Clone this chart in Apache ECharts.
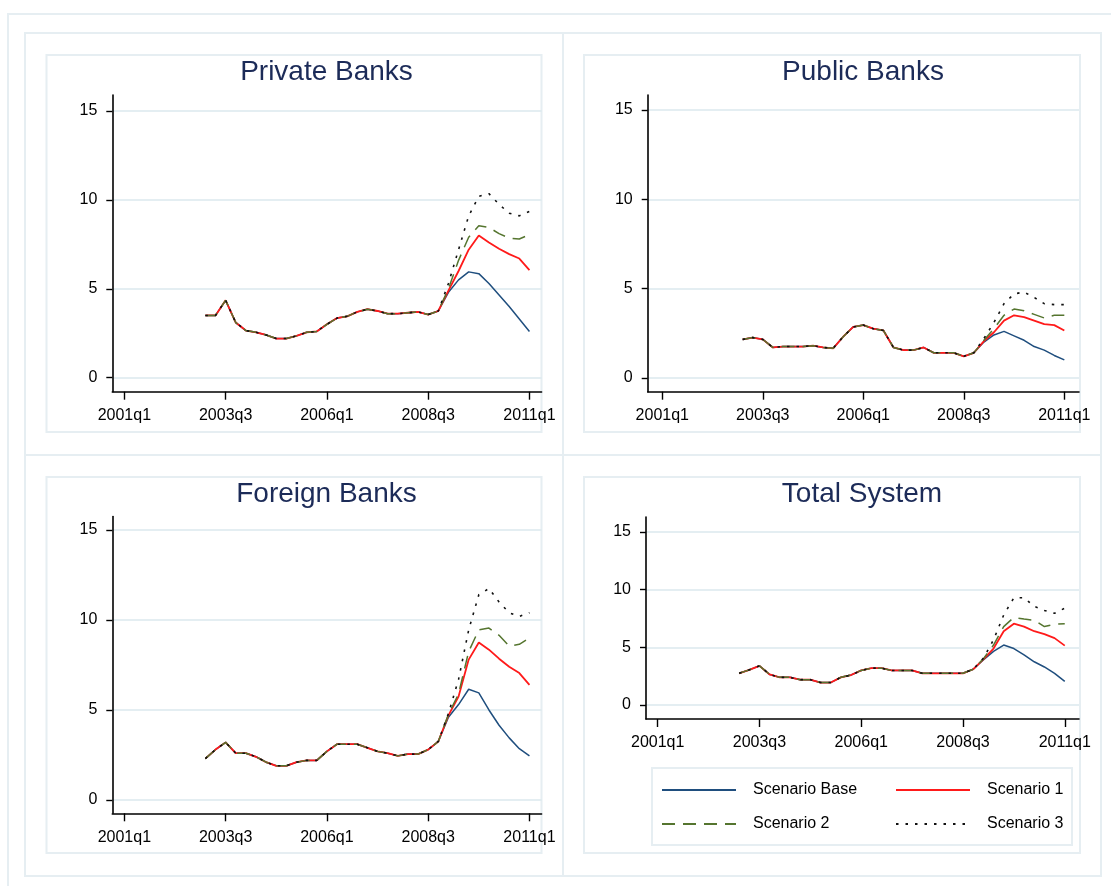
<!DOCTYPE html>
<html><head><meta charset="utf-8">
<script src="https://cdn.jsdelivr.net/npm/echarts@6/dist/echarts.min.js"></script>
<style>html,body{margin:0;padding:0;background:#fff}#c{width:1111px;height:886px}</style>
</head><body><div id="c"></div>
<script>
// ---------- DATA ----------
const quarterTickPos = [0, 10, 20, 30, 40];
const quarterTickLabels = ['2001q1', '2003q3', '2006q1', '2008q3', '2011q1'];
const yTickValues = [0, 5, 10, 15];
const scenarioNames = ['Scenario Base', 'Scenario 1', 'Scenario 2', 'Scenario 3'];
const panelTitles = ['Private Banks', 'Public Banks', 'Foreign Banks', 'Total System'];

// 2001q1 .. 2002q4: no observations
const noData = [null, null, null, null, null, null, null, null];

// 2003q1 .. 2008q4 (identical across scenarios)
const privateCommon = [3.5, 3.5, 4.35, 3.1, 2.65, 2.55, 2.4, 2.2, 2.2, 2.35, 2.55, 2.6, 3.0, 3.35, 3.45, 3.7, 3.85, 3.75, 3.6, 3.6, 3.65, 3.7, 3.55, 3.75];
// 2009q1 .. 2011q1
const privateBase = [4.8, 5.5, 5.95, 5.85, 5.3, 4.65, 4.0, 3.3, 2.6];
const privateS1   = [4.9, 6.0, 7.2, 8.0, 7.6, 7.25, 6.95, 6.7, 6.05];
const privateS2   = [5.0, 6.6, 7.9, 8.55, 8.45, 8.1, 7.85, 7.8, 8.05];
const privateS3   = [5.3, 7.2, 9.1, 10.2, 10.35, 9.75, 9.25, 9.1, 9.35];

const publicCommon = [2.15, 2.25, 2.15, 1.7, 1.75, 1.75, 1.75, 1.8, 1.7, 1.65, 2.3, 2.85, 2.95, 2.75, 2.65, 1.7, 1.55, 1.55, 1.7, 1.4, 1.4, 1.4, 1.2, 1.4];
const publicBase = [2.0, 2.4, 2.6, 2.35, 2.1, 1.75, 1.55, 1.25, 1.0];
const publicS1   = [2.05, 2.55, 3.2, 3.5, 3.4, 3.2, 3.0, 2.95, 2.65];
const publicS2   = [2.1, 2.75, 3.5, 3.85, 3.75, 3.55, 3.35, 3.5, 3.5];
const publicS3   = [2.2, 3.1, 4.15, 4.7, 4.8, 4.5, 4.15, 4.1, 4.1];

const foreignCommon = [2.3, 2.8, 3.2, 2.6, 2.6, 2.4, 2.1, 1.9, 1.9, 2.1, 2.2, 2.2, 2.7, 3.1, 3.1, 3.1, 2.9, 2.7, 2.6, 2.45, 2.55, 2.55, 2.8, 3.25];
const foreignBase = [4.6, 5.3, 6.15, 5.95, 5.0, 4.15, 3.45, 2.85, 2.45];
const foreignS1   = [4.7, 5.75, 7.8, 8.75, 8.35, 7.85, 7.4, 7.05, 6.4];
const foreignS2   = [4.75, 5.9, 8.25, 9.45, 9.55, 9.15, 8.55, 8.65, 9.0];
const foreignS3   = [4.8, 6.7, 9.45, 11.4, 11.75, 11.0, 10.4, 10.2, 10.4];

const totalCommon = [2.75, 3.05, 3.4, 2.65, 2.4, 2.4, 2.2, 2.2, 1.95, 1.95, 2.4, 2.6, 3.0, 3.2, 3.2, 3.0, 3.0, 3.0, 2.75, 2.75, 2.75, 2.75, 2.75, 3.1];
const totalBase = [3.9, 4.65, 5.2, 4.9, 4.35, 3.75, 3.3, 2.75, 2.05];
const totalS1   = [3.95, 4.9, 6.4, 7.05, 6.8, 6.4, 6.15, 5.8, 5.15];
const totalS2   = [4.0, 5.2, 6.8, 7.6, 7.45, 7.35, 6.8, 7.0, 7.05];
const totalS3   = [4.05, 5.65, 7.8, 9.3, 9.3, 8.55, 8.2, 7.95, 8.4];

// ---------- BUILD ----------
const panelData = [
  [privateCommon, [privateBase, privateS1, privateS2, privateS3]],
  [publicCommon,  [publicBase, publicS1, publicS2, publicS3]],
  [foreignCommon, [foreignBase, foreignS1, foreignS2, foreignS3]],
  [totalCommon,   [totalBase, totalS1, totalS2, totalS3]]
];

const layouts = [
  {left: 112.3, top: 95, width: 429.3, height: 296.7, xMin: -1.19, xMax: 41.2,  yMin: -0.79, yMax: 15.9,  tx: 326.5, ty: 72},
  {left: 647.7, top: 95, width: 431.3, height: 296.7, xMin: -1.45, xMax: 41.46, yMin: -0.78, yMax: 15.84, tx: 863,   ty: 72},
  {left: 112.3, top: 516.5, width: 429.3, height: 296.8, xMin: -1.19, xMax: 41.2, yMin: -0.74, yMax: 15.75, tx: 326.5, ty: 494},
  {left: 646,   top: 517, width: 433,   height: 202,   xMin: -1.15, xMax: 41.4,  yMin: -1.21, yMax: 16.3,  tx: 862,   ty: 494}
];

const styles = [
  {color: '#1f4e7e', width: 1.5, type: 'solid'},
  {color: '#ff1a1a', width: 1.8, type: 'solid'},
  {color: '#55752f', width: 1.5, type: [13, 8]},
  {color: '#111111', width: 1.6, type: [2.5, 7]}
];

const FONT = 'Liberation Sans, Arial, sans-serif';
const grids = [], xAxes = [], yAxes = [], series = [];
layouts.forEach((L, p) => {
  grids.push({left: L.left, top: L.top, width: L.width, height: L.height, containLabel: false, outerBoundsMode: 'none'});
  xAxes.push({
    type: 'value', gridIndex: p, min: L.xMin, max: L.xMax,
    axisLine: {show: true, onZero: false, lineStyle: {color: '#000', width: 1.6}},
    axisTick: {show: true, customValues: quarterTickPos, length: 8, lineStyle: {color: '#000', width: 1.4}},
    axisLabel: {show: true, customValues: quarterTickPos, margin: 16, color: '#000', fontFamily: FONT, fontSize: 16,
      formatter: v => quarterTickLabels[quarterTickPos.indexOf(Math.round(v))] || ''},
    splitLine: {show: false}
  });
  yAxes.push({
    type: 'value', gridIndex: p, min: L.yMin, max: L.yMax,
    axisLine: {show: true, onZero: false, lineStyle: {color: '#000', width: 1.6}},
    axisTick: {show: true, customValues: yTickValues, length: 6, lineStyle: {color: '#000', width: 1.4}},
    axisLabel: {show: true, customValues: yTickValues, margin: 15, color: '#000', fontFamily: FONT, fontSize: 16},
    splitLine: {show: true, lineStyle: {color: '#dbe8ee', width: 1.5}}
  });
  const [common, tails] = panelData[p];
  tails.forEach((tail, s) => {
    const full = noData.concat(common, tail);
    series.push({
      type: 'line', name: scenarioNames[s], xAxisIndex: p, yAxisIndex: p,
      data: full.map((v, i) => [i, v]),
      showSymbol: false, symbol: 'none', smooth: false, animation: false,
      lineStyle: {color: styles[s].color, width: styles[s].width, type: styles[s].type},
      itemStyle: {color: styles[s].color},
      z: 2 + s
    });
  });
});

const frame = '#e6eef2';
const graphic = [
  {type: 'rect', shape: {x: 8, y: 14, width: 1125, height: 900}, style: {fill: 'none', stroke: frame, lineWidth: 2}, z: -10},
  {type: 'rect', shape: {x: 25, y: 33, width: 1076, height: 843}, style: {fill: 'none', stroke: frame, lineWidth: 2}, z: -10},
  {type: 'line', shape: {x1: 563, y1: 33, x2: 563, y2: 876}, style: {stroke: frame, lineWidth: 2}, z: -10},
  {type: 'line', shape: {x1: 25, y1: 455, x2: 1101, y2: 455}, style: {stroke: frame, lineWidth: 2}, z: -10},
  {type: 'rect', shape: {x: 46.5, y: 55, width: 495, height: 377}, style: {fill: 'none', stroke: frame, lineWidth: 2}, z: -10},
  {type: 'rect', shape: {x: 584, y: 55, width: 496, height: 377}, style: {fill: 'none', stroke: frame, lineWidth: 2}, z: -10},
  {type: 'rect', shape: {x: 46.5, y: 477, width: 495, height: 376}, style: {fill: 'none', stroke: frame, lineWidth: 2}, z: -10},
  {type: 'rect', shape: {x: 584, y: 477, width: 496, height: 376}, style: {fill: 'none', stroke: frame, lineWidth: 2}, z: -10},
  {type: 'rect', shape: {x: 652, y: 768, width: 420, height: 77}, style: {fill: '#fff', stroke: frame, lineWidth: 2}, z: 1}
];
layouts.forEach((L, p) => {
  graphic.push({type: 'text', x: L.tx, y: L.ty, z: 5,
    style: {text: panelTitles[p], fill: '#1c2b58', font: '28px ' + FONT, textAlign: 'center', textVerticalAlign: 'middle'}});
});

const legendPos = [[661, 782], [895, 782], [661, 816], [895, 816]];
const legends = scenarioNames.map((n, s) => ({
  data: [n], left: legendPos[s][0], top: legendPos[s][1], padding: 0, z: 10,
  itemWidth: 74, itemHeight: 14, selectedMode: false,
  itemStyle: {color: 'rgba(0,0,0,0)', borderColor: 'rgba(0,0,0,0)', borderWidth: 0, opacity: 0},
  textStyle: {color: '#000', fontFamily: FONT, fontSize: 16, padding: [0, 0, 0, 12]}
}));

const chart = echarts.init(document.getElementById('c'), null, {renderer: 'canvas'});
chart.setOption({
  backgroundColor: '#fff',
  animation: false,
  grid: grids, xAxis: xAxes, yAxis: yAxes, series: series,
  legend: legends,
  graphic: graphic
});
</script>
</body></html>
